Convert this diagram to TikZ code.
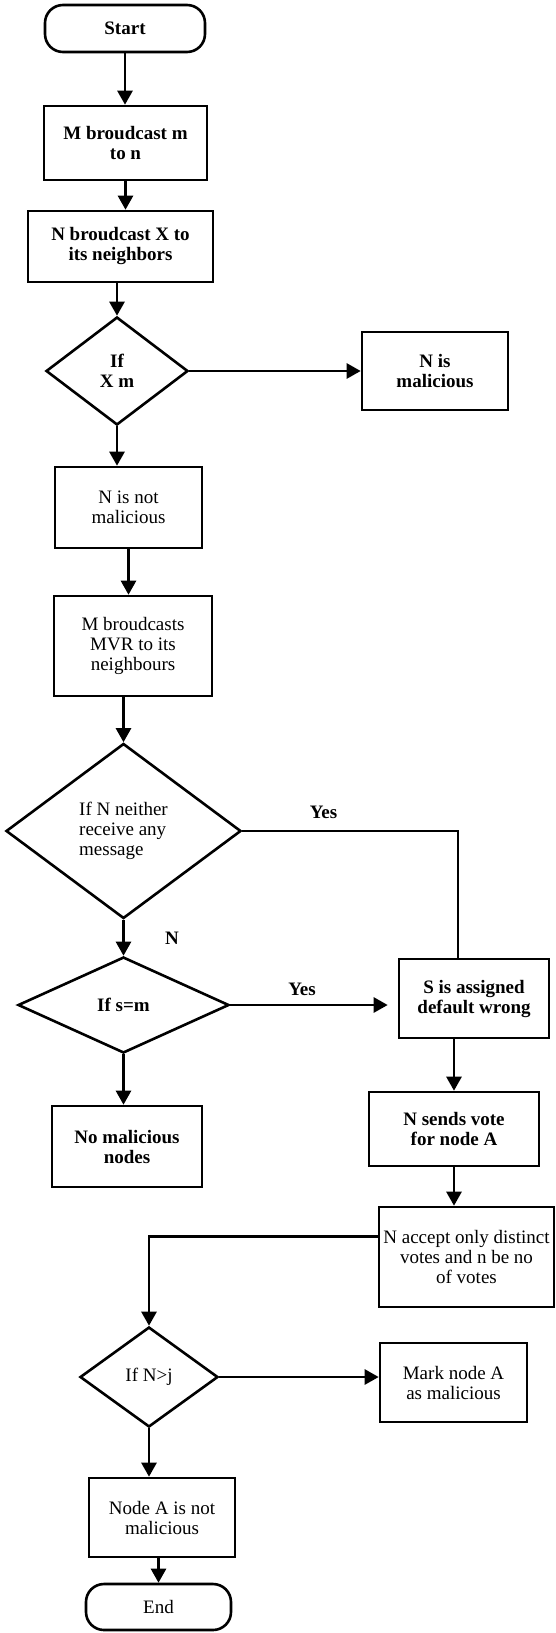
\documentclass[tikz,border=0pt]{standalone}
\usepackage{fontspec}
\setmainfont{Liberation Serif}
\usetikzlibrary{shapes.geometric,arrows.meta}
\begin{document}
\begin{tikzpicture}[x=1pt,y=-1pt,line width=2.6pt,
  txt/.style={font=\fontsize{19}{20}\selectfont},
  txtb/.style={font=\fontsize{19}{20}\selectfont\bfseries},
  box/.style={draw,rectangle,inner sep=0pt,align=center,txt},
  boxb/.style={box,txtb},
  term/.style={box,rounded corners=18pt},
  dec/.style={draw,diamond,inner sep=0pt,align=center,txt},
  decb/.style={dec,txtb},
  arr/.style={-{Triangle[length=14pt,width=15pt]}},
  lab/.style={inner sep=0pt,txtb}]
\useasboundingbox (0,0) rectangle (555,1633);

\node[term,txtb,minimum width=160pt,minimum height=47pt] (start) at (125,28.5) {Start};
\node[boxb,minimum width=163pt,minimum height=74pt] (b1) at (125.5,143) {M broudcast m\\to n};
\node[boxb,minimum width=185pt,minimum height=71pt] (b2) at (120.5,246.5) {N broudcast X to\\its neighbors};
\node[decb,minimum width=142pt,minimum height=108pt] (d1) at (117,371) {If\\X m};
\node[boxb,minimum width=146pt,minimum height=78pt] (mal) at (435,371) {N is\\malicious};
\node[box,minimum width=147pt,minimum height=81pt] (b3) at (128.5,507.5) {N is not\\malicious};
\node[box,minimum width=158pt,minimum height=100pt] (b4) at (133,646) {M broudcasts\\MVR to its\\neighbours};
\node[dec,align=left,minimum width=235pt,minimum height=175pt] (d2) at (123.5,831) {If N neither\\receive any\\message};
\node[decb,minimum width=211pt,minimum height=96pt] (d3) at (123.5,1005) {If s=m};
\node[boxb,minimum width=150pt,minimum height=81pt] (nomal) at (127,1146.5) {No malicious\\nodes};
\node[boxb,minimum width=150pt,minimum height=79pt] (sbox) at (474,998.5) {S is assigned\\default wrong};
\node[boxb,minimum width=170pt,minimum height=74pt] (votes) at (454,1129) {N sends vote\\for node A};
\node[box,minimum width=175pt,minimum height=100pt] (accept) at (466.5,1257) {N accept only distinct\\votes and n be no\\of votes};
\node[dec,minimum width=138pt,minimum height=100pt] (d4) at (149,1377) {If N>j};
\node[box,minimum width=147pt,minimum height=79pt] (mark) at (453.5,1382.5) {Mark node A\\as malicious};
\node[box,minimum width=146pt,minimum height=79pt] (notmal) at (162,1517.5) {Node A is not\\malicious};
\node[term,minimum width=145pt,minimum height=46pt] (end) at (158.5,1607) {End};

\node[lab] (yes1) at (323.5,812) {Yes};
\node[lab] (nlab) at (172,938) {N};
\node[lab] (yes2) at (302,989) {Yes};

\coordinate (k1) at (458,831);

\draw[arr] (start.south) -- (start.south |- b1.north);
\draw[arr] (b1.south) -- (b1.south |- b2.north);
\draw[arr] (d1.north |- b2.south) -- (d1.north);
\draw[arr] (d1.east) -- (mal.west);
\draw[arr] (d1.south) -- (d1.south |- b3.north);
\draw[arr] (b3.south) -- (b3.south |- b4.north);
\draw[arr] (d2.north |- b4.south) -- (d2.north);
\draw (d2.east) -- (k1) -- (k1 |- sbox.north);
\draw[arr] (d2.south) -- (d3.north);
\draw[arr,shorten >=10pt] (d3.east) -- (d3.east -| sbox.west);
\draw[arr] (d3.south) -- (d3.south |- nomal.north);
\draw[arr] (votes.north |- sbox.south) -- (votes.north);
\draw[arr] (votes.south) -- (votes.south |- accept.north);
\draw[arr] ([yshift=-31pt]accept.north west) -| (d4.north);
\draw[arr] (d4.east) -- (d4.east -| mark.west);
\draw[arr] (d4.south) -- (d4.south |- notmal.north);
\draw[arr] (end.north |- notmal.south) -- (end.north);
\end{tikzpicture}
\end{document}
